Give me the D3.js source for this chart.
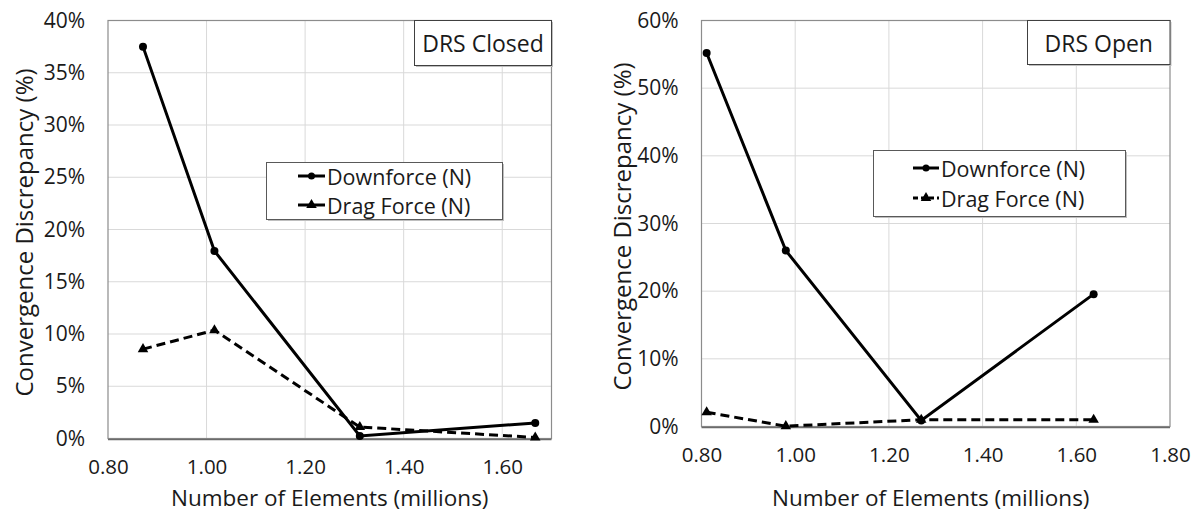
<!DOCTYPE html>
<html><head><meta charset="utf-8">
<script src="https://cdn.jsdelivr.net/npm/d3@7"></script>
<style>
html,body{margin:0;padding:0;background:#fff;}
svg text{font-family:"Open Sans","Noto Sans",sans-serif;fill:#1a1a1a;}
</style></head>
<body><svg id="c" width="1201" height="516"></svg>
<script>
// ---- data ----
const closedElements = [0.871, 1.016, 1.311, 1.667];
const closedDownforce = [37.5, 17.95, 0.25, 1.49];
const closedDrag = [8.55, 10.36, 1.1, 0.1];
const openElements = [0.811, 0.980, 1.269, 1.637];
const openDownforce = [55.2, 26.0, 0.9, 19.56];
const openDrag = [2.1, 0.05, 1.0, 1.0];
const closedXTicks = [0.8, 1.0, 1.2, 1.4, 1.6];
const openXTicks = [0.8, 1.0, 1.2, 1.4, 1.6, 1.8];
const closedYTicks = [0, 5, 10, 15, 20, 25, 30, 35, 40];
const openYTicks = [0, 10, 20, 30, 40, 50, 60];
const seriesNames = ["Downforce (N)", "Drag Force (N)"];
const titles = ["DRS Closed", "DRS Open"];

const svg = d3.select("#c");

function panel(cfg) {
  const g = svg.append("g");
  const x = d3.scaleLinear().domain(cfg.xDomain).range([cfg.left, cfg.right]);
  const y = d3.scaleLinear().domain(cfg.yDomain).range([cfg.bottom, cfg.top]);

  // gridlines
  g.append("g").selectAll("line.v").data(cfg.xTicks.filter(t => x(t) > cfg.left + 1 && x(t) < cfg.right - 1))
    .join("line").attr("x1", d => x(d)).attr("x2", d => x(d)).attr("y1", cfg.top).attr("y2", cfg.bottom)
    .attr("stroke", "#d9d9d9").attr("stroke-width", 1);
  g.append("g").selectAll("line.h").data(cfg.yTicks.filter(t => t > cfg.yDomain[0] && t < cfg.yDomain[1]))
    .join("line").attr("x1", cfg.left).attr("x2", cfg.right).attr("y1", d => y(d)).attr("y2", d => y(d))
    .attr("stroke", "#d9d9d9").attr("stroke-width", 1);

  // plot border
  g.append("rect").attr("x", cfg.left).attr("y", cfg.top).attr("width", cfg.right - cfg.left)
    .attr("height", cfg.bottom - cfg.top).attr("fill", "none").attr("stroke", "#8c8c8c").attr("stroke-width", 1.2);
  g.append("line").attr("x1", cfg.left).attr("x2", cfg.right).attr("y1", cfg.bottom + 1).attr("y2", cfg.bottom + 1)
    .attr("stroke", "#6b6b6b").attr("stroke-width", 1.5);

  // axes (labels only)
  const xAxis = d3.axisBottom(x).tickValues(cfg.xTicks).tickFormat(d3.format(".2f")).tickSize(0).tickPadding(21);
  const xg = g.append("g").attr("transform", `translate(0,${cfg.bottom})`).call(xAxis);
  xg.select(".domain").remove();
  xg.selectAll("text").attr("font-size", 20.5).attr("fill", "#1a1a1a").attr("font-family", "Open Sans");
  const yAxis = d3.axisLeft(y).tickValues(cfg.yTicks).tickFormat(d => d + "%").tickSize(0).tickPadding(23);
  const yg = g.append("g").attr("transform", `translate(${cfg.left},0)`).call(yAxis);
  yg.select(".domain").remove();
  yg.selectAll("text").attr("font-size", 21).attr("fill", "#1a1a1a").attr("font-family", "Open Sans");

  // axis titles
  g.append("text").attr("x", (cfg.left + cfg.right) / 2 + cfg.xTitleShift).attr("y", cfg.xTitleY)
    .attr("text-anchor", "middle").attr("font-size", 22.5).text("Number of Elements (millions)");
  g.append("text").attr("transform", `translate(${cfg.yTitleX},${(cfg.top + cfg.bottom) / 2 + 3}) rotate(-90)`)
    .attr("text-anchor", "middle").attr("dominant-baseline", "central").attr("font-size", 24).text("Convergence Discrepancy (%)");

  // series
  const line = d3.line().x(d => x(d[0])).y(d => y(d[1]));
  const dn = cfg.elements.map((e, i) => [e, cfg.down[i]]);
  const dr = cfg.elements.map((e, i) => [e, cfg.drag[i]]);
  g.append("path").datum(dr).attr("d", line).attr("fill", "none").attr("stroke", "#000")
    .attr("stroke-width", 3).attr("stroke-dasharray", "9,5");
  g.append("path").datum(dn).attr("d", line).attr("fill", "none").attr("stroke", "#000").attr("stroke-width", 3);
  g.selectAll("circle.m").data(dn).join("circle").attr("cx", d => x(d[0])).attr("cy", d => y(d[1])).attr("r", 4).attr("fill", "#000");
  const tri = d3.symbol().type(d3.symbolTriangle).size(48);
  g.selectAll("path.t").data(dr).join("path").attr("d", tri)
    .attr("transform", d => `translate(${x(d[0])},${y(d[1])})`).attr("fill", "#000");

  // title box
  const tb = cfg.titleBox;
  g.append("rect").attr("x", tb[0] + 1.5).attr("y", tb[1] + 1.5).attr("width", tb[2] - tb[0]).attr("height", tb[3] - tb[1]).attr("fill", "#bfbfbf");
  g.append("rect").attr("x", tb[0]).attr("y", tb[1]).attr("width", tb[2] - tb[0]).attr("height", tb[3] - tb[1])
    .attr("fill", "#fff").attr("stroke", "#404040").attr("stroke-width", 1);
  g.append("text").attr("x", (tb[0] + tb[2]) / 2).attr("y", (tb[1] + tb[3]) / 2).attr("dominant-baseline", "central")
    .attr("text-anchor", "middle").attr("font-size", 23).text(cfg.title);

  // legend
  const lb = cfg.legendBox;
  g.append("rect").attr("x", lb[0] + 1.5).attr("y", lb[1] + 1.5).attr("width", lb[2] - lb[0]).attr("height", lb[3] - lb[1]).attr("fill", "#bfbfbf");
  g.append("rect").attr("x", lb[0]).attr("y", lb[1]).attr("width", lb[2] - lb[0]).attr("height", lb[3] - lb[1])
    .attr("fill", "#fff").attr("stroke", "#595959").attr("stroke-width", 1);
  cfg.legendRows.forEach((ry, i) => {
    g.append("line").attr("x1", cfg.legendLine[0]).attr("x2", cfg.legendLine[1]).attr("y1", ry).attr("y2", ry)
      .attr("stroke", "#000").attr("stroke-width", 3).attr("stroke-dasharray", i === 1 ? cfg.legendDash : null);
    const cx = (cfg.legendLine[0] + cfg.legendLine[1]) / 2;
    if (i === 0) g.append("circle").attr("cx", cx).attr("cy", ry).attr("r", 3.5).attr("fill", "#000");
    else g.append("path").attr("d", tri).attr("transform", `translate(${cx},${ry})`).attr("fill", "#000");
    g.append("text").attr("x", cfg.legendLine[1] + 2).attr("y", ry).attr("dominant-baseline", "central")
      .attr("font-size", 21.5).text(seriesNames[i]);
  });
}

panel({
  left: 108, right: 551.5, top: 20.5, bottom: 438.5,
  xDomain: [0.8, 1.7], yDomain: [0, 40], xTicks: closedXTicks, yTicks: closedYTicks,
  elements: closedElements, down: closedDownforce, drag: closedDrag,
  xTitleY: 506, xTitleShift: 0, yTitleX: 23,
  title: titles[0], titleBox: [414.5, 20.5, 551.5, 65.5],
  legendBox: [266.5, 162.5, 502.5, 219.5], legendRows: [176, 205], legendLine: [298, 325], legendDash: null
});
panel({
  left: 701.5, right: 1170, top: 20.5, bottom: 426.5,
  xDomain: [0.8, 1.8], yDomain: [0, 60], xTicks: openXTicks, yTicks: openYTicks,
  elements: openElements, down: openDownforce, drag: openDrag,
  xTitleY: 506, xTitleShift: -5, yTitleX: 621,
  title: titles[1], titleBox: [1027.5, 20.5, 1170, 64.5],
  legendBox: [873.5, 150.5, 1125.5, 216.5], legendRows: [168, 198], legendLine: [913, 939], legendDash: "5,3"
});
</script></body></html>
